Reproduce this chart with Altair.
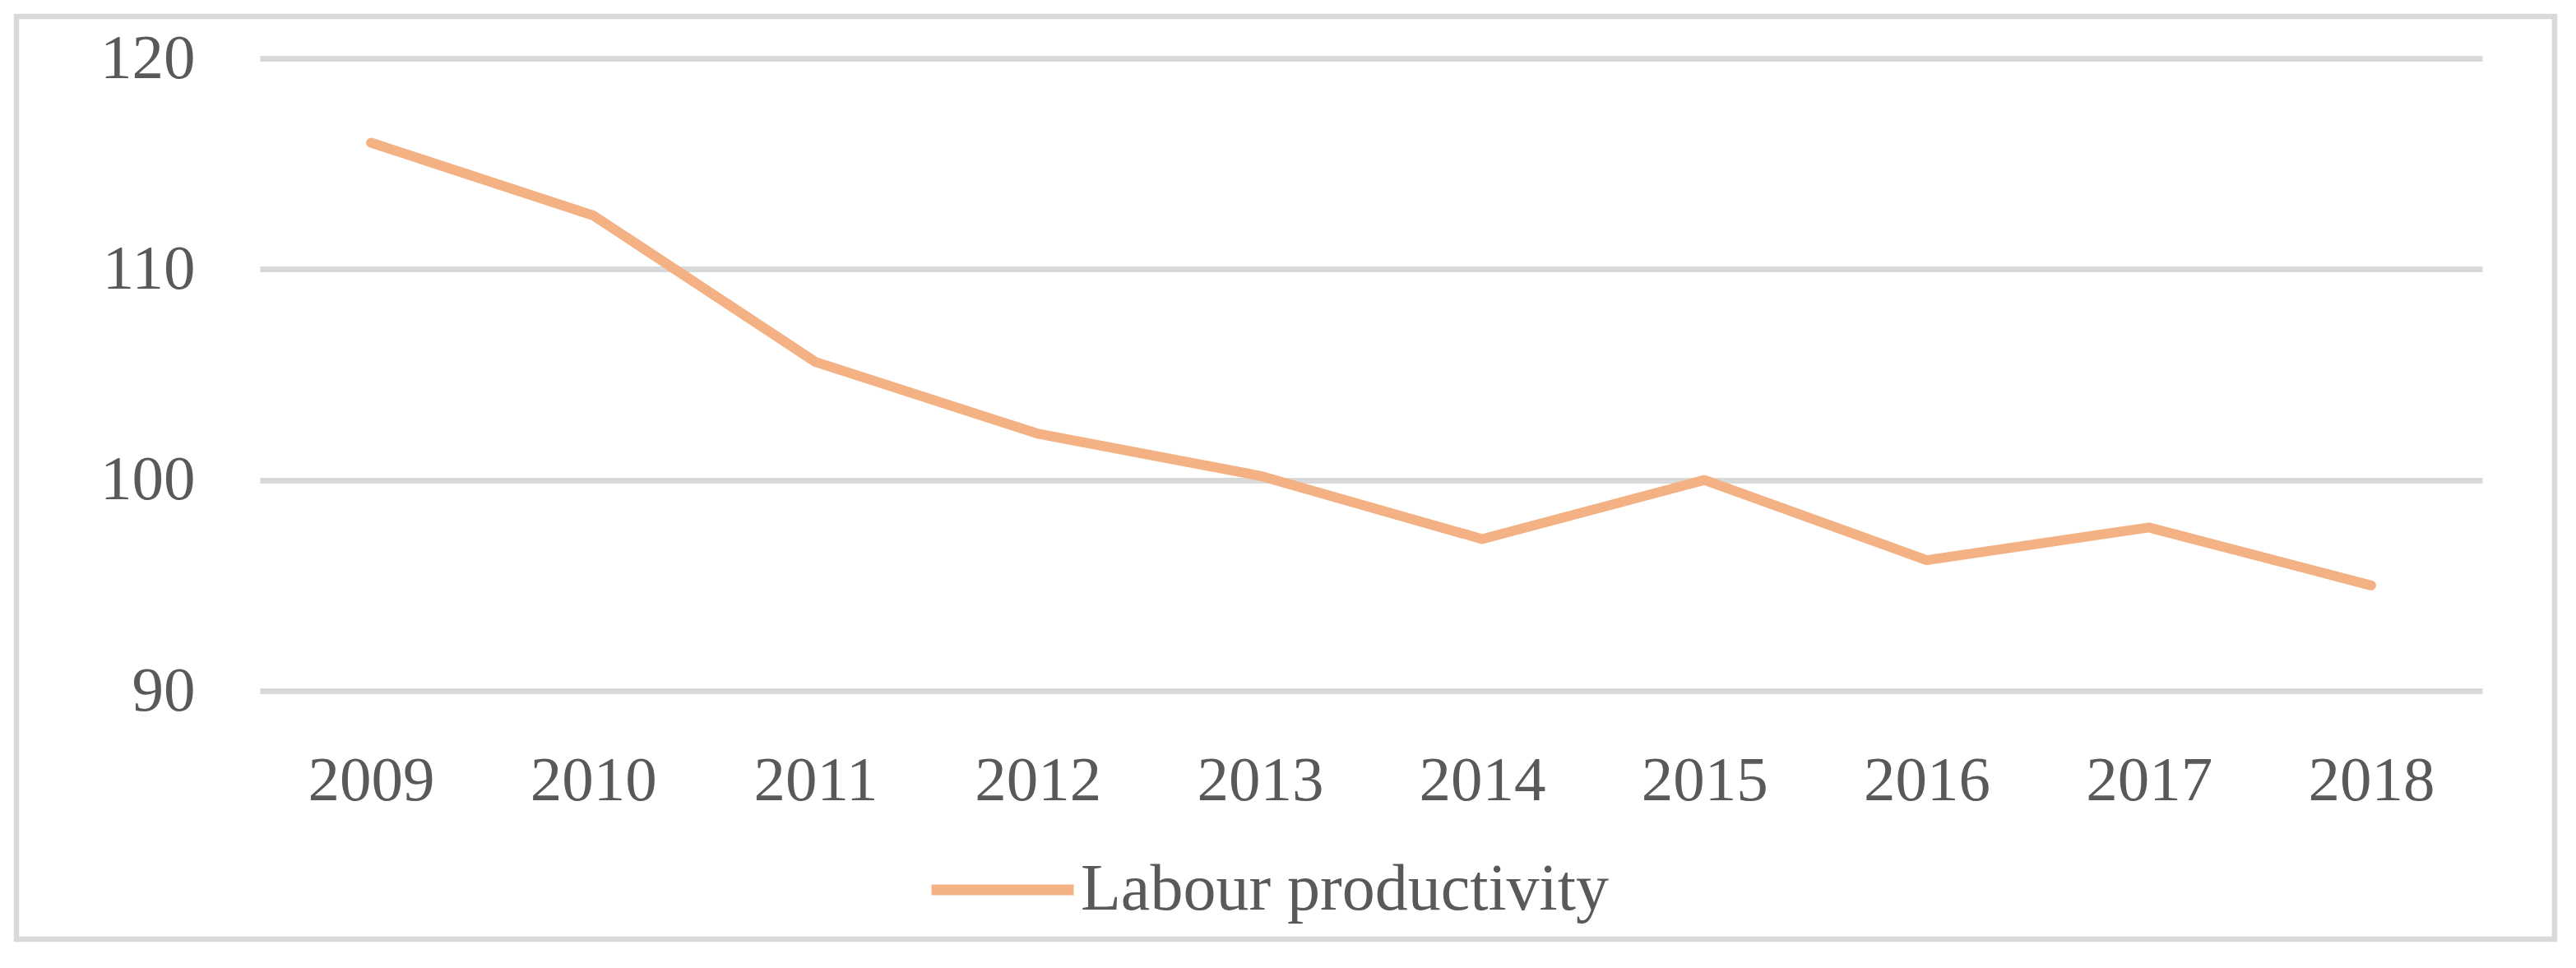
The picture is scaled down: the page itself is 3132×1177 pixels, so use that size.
import altair as alt
import pandas as pd

years = ["2009", "2010", "2011", "2012", "2013", "2014", "2015", "2016", "2017", "2018"]
productivity = [116.0, 112.55, 105.6, 102.2, 100.2, 97.2, 100.0, 96.2, 97.75, 95.0]
series_name = "Labour productivity"
y_ticks = [90, 100, 110, 120]

df = pd.DataFrame({"year": years, "value": productivity, "series": [series_name] * len(years)})

FONT = "Liberation Serif"
TEXT = "#595959"
GRID = "#D9D9D9"
LINE = "#F4B183"

W, H = 2702, 769

border = alt.Chart(pd.DataFrame({"a": [0]})).mark_rect(
    fill="transparent", stroke=GRID, strokeWidth=6.5
).encode(
    x=alt.value(-296), x2=alt.value(2790), y=alt.value(-51), y2=alt.value(1071)
)

line = alt.Chart(df).mark_line(strokeWidth=12, strokeCap="round", strokeJoin="round").encode(
    x=alt.X("year:N", sort=years, scale=alt.Scale(type="point", padding=0.5),
            axis=alt.Axis(title=None, labelAngle=0, domain=False, ticks=False, grid=False,
                          labelPadding=71, labelFontSize=77, labelFont=FONT, labelColor=TEXT)),
    y=alt.Y("value:Q", scale=alt.Scale(domain=[90, 120], nice=False, zero=False),
            axis=alt.Axis(title=None, values=y_ticks, domain=False, ticks=False, grid=True,
                          gridColor=GRID, gridWidth=7, labelPadding=79, labelFontSize=77,
                          labelFont=FONT, labelColor=TEXT)),
    color=alt.Color("series:N", scale=alt.Scale(range=[LINE]),
                    legend=alt.Legend(title=None, orient="none", legendX=810, legendY=918,
                                      symbolType="stroke", symbolSize=29929, symbolStrokeWidth=13,
                                      labelFont=FONT, labelFontSize=80, labelColor=TEXT,
                                      labelOffset=2, labelLimit=0, padding=0)),
)

chart = alt.layer(border, line).properties(
    width=W, height=H,
    autosize=alt.AutoSizeParams(type="none"),
    padding={"left": 308, "top": 63, "right": 100, "bottom": 318},
).configure_view(stroke=None)

chart.save("out.html", embed_options={"renderer": "svg", "actions": False})
